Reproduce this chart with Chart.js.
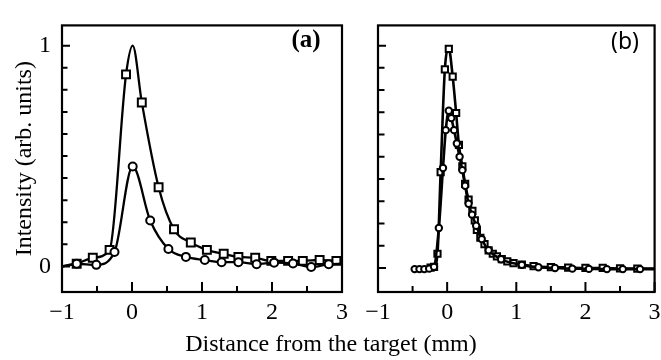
<!DOCTYPE html>
<html lang="en">
<head>
    <meta charset="UTF-8">
    <title>Intensity vs distance from the target</title>
    <script src="https://cdn.jsdelivr.net/npm/chart.js"></script>
    <style>
        body { margin: 0; background: #fff; }
        #wrap { position: relative; width: 661px; height: 360px; overflow: hidden; }
        canvas { position: absolute; top: 0; }
        #chartA { left: 0; }
        #chartB { left: 340px; }
        .txt { position: absolute; color: #000; white-space: nowrap; line-height: 1; transform: translate(-50%, -50%); }
        #xTitle { left: 331px; top: 343px; font: 24px 'Liberation Serif', serif; }
        #tagA { left: 306px; top: 39px; font: bold 25px 'Liberation Serif', serif; }
        #tagB { left: 625px; top: 40px; font: 23px 'Noto Sans', sans-serif; }
    </style>
</head>
<body>
<div id="wrap">
    <canvas id="chartA" width="350" height="330"></canvas>
    <canvas id="chartB" width="321" height="330"></canvas>
    <div class="txt" id="xTitle">Distance from the target (mm)</div>
    <div class="txt" id="tagA">(a)</div>
    <div class="txt" id="tagB">(b)</div>
</div>
<script>
    // panel (a) - squares (upper curve)
    const aSqX = [-1, -0.79, -0.56, -0.32, -0.085, 0.01, 0.14, 0.38, 0.60, 0.84, 1.07, 1.31, 1.52, 1.76, 1.99, 2.23, 2.44, 2.68, 2.92, 3];
    const aSqY = [0, 0.012, 0.039, 0.075, 0.87, 1.0, 0.743, 0.359, 0.168, 0.108, 0.075, 0.057, 0.043, 0.039, 0.025, 0.025, 0.025, 0.029, 0.025, 0.03];
    const aSqBare = [0, 5, 19]; // line-only points (ends, peak tip)

    // panel (a) - circles (lower curve)
    const aCiX = [-1, -0.79, -0.51, -0.25, 0.01, 0.26, 0.52, 0.77, 1.04, 1.28, 1.52, 1.78, 2.03, 2.30, 2.56, 2.81, 3];
    const aCiY = [0, 0.012, 0.007, 0.065, 0.453, 0.208, 0.079, 0.043, 0.029, 0.019, 0.019, 0.01, 0.017, 0.013, -0.003, 0.01, 0.012];
    const aCiBare = [0, 16];

    // panel (b) - squares (peak 1)
    const bSqX = [-0.24, -0.19, -0.14, -0.094, -0.033, 0.024, 0.08, 0.13, 0.17, 0.22, 0.26, 0.31, 0.365, 0.40, 0.43, 0.48, 0.54, 0.60, 0.66, 0.72, 0.79, 0.87, 0.96, 1.08, 1.25, 1.5, 1.75, 2.0, 2.25, 2.5, 2.75, 3.0];
    const bSqY = [0.002, 0.005, 0.064, 0.431, 0.893, 0.985, 0.861, 0.697, 0.554, 0.457, 0.378, 0.307, 0.257, 0.214, 0.171, 0.136, 0.107, 0.079, 0.064, 0.052, 0.04, 0.03, 0.022, 0.015, 0.008, 0.004, 0.002, 0, 0, -0.002, -0.003, -0.003];
    const bSqBare = [31];

    // panel (b) - circles (peak 0.7)
    const bCiX = [-0.47, -0.40, -0.33, -0.26, -0.19, -0.12, -0.06, -0.02, 0.024, 0.06, 0.1, 0.14, 0.18, 0.22, 0.26, 0.31, 0.36, 0.42, 0.5, 0.6, 0.78, 1.08, 1.32, 1.56, 1.81, 2.05, 2.31, 2.54, 2.79, 3.0];
    const bCiY = [-0.005, -0.005, -0.005, -0.003, 0.005, 0.18, 0.45, 0.62, 0.707, 0.674, 0.62, 0.56, 0.5, 0.44, 0.37, 0.289, 0.24, 0.19, 0.13, 0.08, 0.039, 0.014, 0.003, 0, -0.003, -0.004, -0.005, -0.005, -0.005, -0.005];
    const bCiBare = [29];

    const xTicks = [-1, -0.5, 0, 0.5, 1, 1.5, 2, 2.5, 3];
    const yTicks = [0, 0.1, 0.2, 0.3, 0.4, 0.5, 0.6, 0.7, 0.8, 0.9, 1];

    const serif = 'Liberation Serif';
    const fmt = v => (v < 0 ? '\u2212' + Math.abs(v) : String(v));

    // frame box and inward tick marks
    const frameTicks = {
        id: 'frameTicks',
        afterDatasetsDraw(chart, args, o) {
            const { ctx, chartArea: a, scales: { x, y } } = chart;
            ctx.save();
            ctx.strokeStyle = '#000';
            ctx.lineWidth = 2;
            ctx.beginPath();
            x.ticks.forEach(t => {
                const px = x.getPixelForValue(t.value);
                const len = Number.isInteger(t.value) ? o.xMajor : o.xMinor;
                ctx.moveTo(px, a.bottom);
                ctx.lineTo(px, a.bottom - len);
            });
            y.ticks.forEach(t => {
                const py = y.getPixelForValue(t.value);
                const len = Number.isInteger(t.value) ? o.yMajor : o.yMinor;
                ctx.moveTo(a.left, py);
                ctx.lineTo(a.left + len, py);
            });
            ctx.stroke();
            ctx.lineWidth = 2.2;
            ctx.strokeRect(a.left, a.top, a.right - a.left, a.bottom - a.top);
            ctx.restore();
        }
    };

    function series(xs, ys, bare, style, r, w) {
        return {
            data: xs.map((v, i) => ({ x: v, y: ys[i] })),
            borderColor: '#000',
            borderWidth: w,
            cubicInterpolationMode: 'monotone',
            pointStyle: style,
            pointRadius: c => (bare.includes(c.dataIndex) ? 0 : r),
            pointBackgroundColor: '#fff',
            pointBorderColor: '#000',
            pointBorderWidth: 2
        };
    }

    function makeChart(id, datasets, cfg) {
        return new Chart(document.getElementById(id), {
            type: 'line',
            data: { datasets },
            plugins: [frameTicks],
            options: {
                responsive: false,
                animation: false,
                events: [],
                layout: { padding: { top: 12, right: cfg.padRight, left: 0, bottom: 0 } },
                plugins: {
                    legend: { display: false },
                    tooltip: { enabled: false },
                    frameTicks: cfg.ticks
                },
                scales: {
                    x: {
                        type: 'linear',
                        min: -1,
                        max: 3,
                        afterBuildTicks: s => { s.ticks = xTicks.map(v => ({ value: v })); },
                        afterFit: s => { s.height = 38; s.paddingLeft = 0; s.paddingRight = 0; },
                        grid: { display: false, drawTicks: false },
                        border: { display: false },
                        ticks: {
                            autoSkip: false,
                            maxRotation: 0,
                            padding: 6,
                            color: '#000',
                            font: { family: serif, size: 24 },
                            callback: v => (Number.isInteger(v) ? fmt(v) : '')
                        }
                    },
                    y: {
                        type: 'linear',
                        min: cfg.yMin,
                        max: cfg.yMax,
                        afterBuildTicks: s => { s.ticks = yTicks.map(v => ({ value: v })); },
                        afterFit: s => { s.width = cfg.yWidth; },
                        grid: { display: false, drawTicks: false },
                        border: { display: false },
                        title: {
                            display: cfg.yTitle !== '',
                            text: cfg.yTitle,
                            color: '#000',
                            font: { family: serif, size: 24 },
                            padding: { top: 10, bottom: 0 }
                        },
                        ticks: {
                            autoSkip: false,
                            padding: 11,
                            color: '#000',
                            font: { family: serif, size: 24 },
                            callback: v => (cfg.yLabels && Number.isInteger(v) ? String(v) : '')
                        }
                    }
                }
            }
        });
    }

    makeChart('chartA', [
        series(aCiX, aCiY, aCiBare, 'circle', 4, 2.3),
        series(aSqX, aSqY, aSqBare, 'rect', 5.6, 2.3)
    ], {
        padRight: 8, yWidth: 62, yMin: -0.116, yMax: 1.092,
        yTitle: 'Intensity (arb. units)', yLabels: true,
        ticks: { xMajor: 10, xMinor: 6, yMajor: 8, yMinor: 5.5 }
    });

    makeChart('chartB', [
        series(bCiX, bCiY, bCiBare, 'circle', 3.2, 2.6),
        series(bSqX, bSqY, bSqBare, 'rect', 4.4, 2.6)
    ], {
        padRight: 6, yWidth: 38, yMin: -0.108, yMax: 1.091,
        yTitle: '', yLabels: false,
        ticks: { xMajor: 10, xMinor: 6, yMajor: 8, yMinor: 6.5 }
    });
</script>
</body>
</html>
